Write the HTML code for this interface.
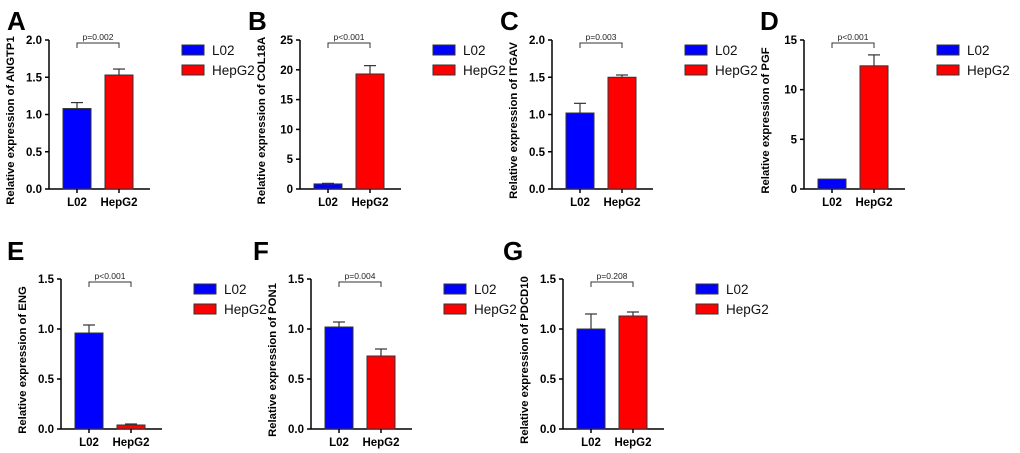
<!DOCTYPE html>
<html><head><meta charset="utf-8">
<style>
html,body{margin:0;padding:0;background:#fff;}
svg{display:block;font-family:"Liberation Sans",Arial,sans-serif;}
</style></head>
<body>
<svg id="fig" width="1020" height="453" viewBox="0 0 1020 453"></svg>
<script>
const panelLetters = ["A","B","C","D","E","F","G"];
const genes = ["ANGTP1","COL18A","ITGAV","PGF","ENG","PON1","PDCD10"];
const categories = ["L02","HepG2"];
const l02Values = [1.08,0.85,1.02,1.0,0.96,1.02,1.0];
const hepValues = [1.53,19.3,1.50,12.4,0.04,0.73,1.13];
const l02Err = [0.08,0.1,0.13,0.0,0.08,0.05,0.15];
const hepErr = [0.08,1.4,0.03,1.1,0.01,0.07,0.04];
const pLabels = ["p=0.002","p<0.001","p=0.003","p<0.001","p<0.001","p=0.004","p=0.208"];
const yMax = [2,25,2,15,1.5,1.5,1.5];
const yStep = [0.5,5,0.5,5,0.5,0.5,0.5];
const tickDecimals = [1,0,1,0,1,1,1];

const layout = [
 {x0:49,top:40,bot:189,lx:7,ly:30},
 {x0:300,top:40,bot:189,lx:248,ly:30},
 {x0:552,top:40,bot:189,lx:500,ly:30},
 {x0:804,top:40,bot:189,lx:760,ly:30},
 {x0:61,top:279,bot:429,lx:7,ly:260},
 {x0:311,top:279,bot:429,lx:253,ly:260},
 {x0:563,top:279,bot:429,lx:503,ly:260}
];
const NS="http://www.w3.org/2000/svg";
const svg=document.getElementById('fig');
function mk(tag,attrs,parent,text){const e=document.createElementNS(NS,tag);for(const k in attrs)e.setAttribute(k,attrs[k]);if(text!==undefined)e.textContent=text;(parent||svg).appendChild(e);return e;}

panelLetters.forEach((L,i)=>{
  const p=layout[i];
  const g=mk('g',{});
  
  
  const yS=v=>p.bot-(v/yMax[i])*(p.bot-p.top);
  const xC=[p.x0+28,p.x0+70];
  const lt=mk('text',{x:p.lx,y:p.ly,'font-size':26,'font-weight':'bold',fill:'#000'},g,L);
  
  
  const ax=mk('line',{x1:p.x0,y1:p.top,x2:p.x0,y2:p.bot,stroke:'#000','stroke-width':1.5},g);
  
  
  const xa=mk('line',{x1:p.x0,y1:p.bot,x2:p.x0+101,y2:p.bot,stroke:'#000','stroke-width':1.5},g);
  
  
  for(let v=0;v<=yMax[i]+1e-9;v+=yStep[i]){
    const y=yS(v);
    mk('line',{x1:p.x0-4,y1:y,x2:p.x0,y2:y,stroke:'#000','stroke-width':1.5},g);
    const t=mk('text',{x:p.x0-7,y:y+4,'font-size':11.5,'font-weight':'bold','text-anchor':'end'},g,v.toFixed(tickDecimals[i]));
    
    
  }
  const yt=mk('text',{x:0,y:0,'font-size':11.3,'font-weight':'bold','text-anchor':'middle',transform:`translate(${p.x0-35},${(p.top+p.bot)/2+6}) rotate(-90)`},g,'Relative expression of '+genes[i]);
  
  
  const vals=[l02Values[i],hepValues[i]], errs=[l02Err[i],hepErr[i]], cols=['#0000ff','#ff0000'];
  vals.forEach((v,j)=>{
    const y=yS(v);
    if(errs[j]>0){
      const ye=yS(v+errs[j]);
      mk('line',{x1:xC[j],y1:y,x2:xC[j],y2:ye,stroke:'#333','stroke-width':1.2},g);
      mk('line',{x1:xC[j]-6,y1:ye,x2:xC[j]+6,y2:ye,stroke:'#333','stroke-width':1.2},g);
    }
    const b=mk('rect',{x:xC[j]-14,y:y,width:28,height:p.bot-y,fill:cols[j],stroke:'#333','stroke-width':1},g);
    
    
    mk('line',{x1:xC[j],y1:p.bot,x2:xC[j],y2:p.bot+4,stroke:'#000','stroke-width':1.5},g);
    const xl=mk('text',{x:xC[j],y:p.bot+17,'font-size':11.5,'font-weight':'bold','text-anchor':'middle'},g,categories[j]);
    
    
  });
  const by=p.top+3;
  mk('path',{d:`M${xC[0]},${by+5}V${by}H${xC[1]}V${by+5}`,fill:'none',stroke:'#333','stroke-width':1},g);
  const pt=mk('text',{x:(xC[0]+xC[1])/2,y:by-3,'font-size':8.5,'text-anchor':'middle',fill:'#222'},g,pLabels[i]);
  
  
  categories.forEach((c,j)=>{
    const ly=p.top+5+j*20;
    const lg=mk('g',{},g);
    
    
    mk('rect',{x:p.x0+133,y:ly,width:22,height:10,fill:cols[j],stroke:'#333','stroke-width':1},lg);
    mk('text',{x:p.x0+163,y:ly+10,'font-size':13.5,fill:'#111'},lg,c);
  });
});
</script>
</body></html>
